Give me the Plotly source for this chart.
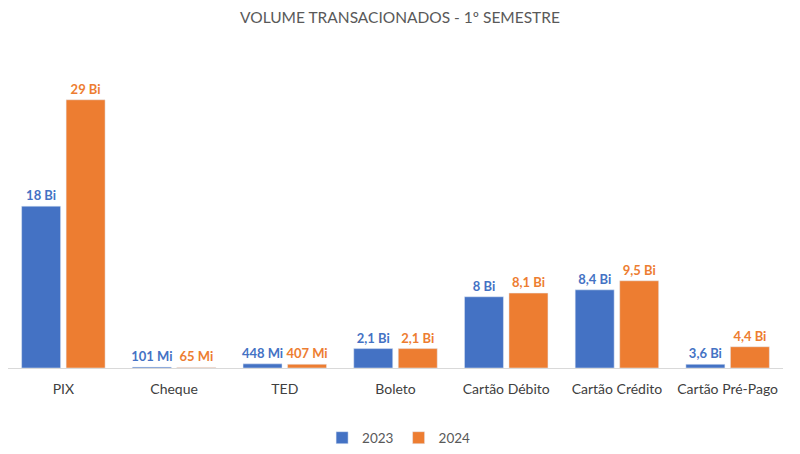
import plotly.graph_objects as go

categorias = ["PIX", "Cheque", "TED", "Boleto", "Cartão Débito", "Cartão Crédito", "Cartão Pré-Pago"]
# bar heights (Bi) as drawn in the picture
v2023 = [17.5, 0.101, 0.448, 2.1, 7.7, 8.45, 0.4]
v2024 = [29, 0.065, 0.407, 2.1, 8.1, 9.43, 2.3]
# data labels as printed
r2023 = ["18 Bi", "101 Mi", "448 Mi", "2,1 Bi", "8 Bi", "8,4 Bi", "3,6 Bi"]
r2024 = ["29 Bi", "65 Mi", "407 Mi", "2,1 Bi", "8,1 Bi", "9,5 Bi", "4,4 Bi"]

AZUL = "#4472C4"
LARANJA = "#ED7D31"
CINZA = "#595959"
FONTE = "Lato, Open Sans, sans-serif"

fig = go.Figure()
fig.add_trace(go.Bar(x=categorias, y=v2023, name="2023", marker_color=AZUL,
                     text=r2023, textposition="outside", cliponaxis=False,
                     constraintext="none",
                     textfont=dict(color=AZUL, size=13, family=FONTE, weight="bold")))
fig.add_trace(go.Bar(x=categorias, y=v2024, name="2024", marker_color=LARANJA,
                     text=r2024, textposition="outside", cliponaxis=False,
                     constraintext="none",
                     textfont=dict(color=LARANJA, size=13, family=FONTE, weight="bold")))

fig.update_layout(
    width=800, height=454,
    margin=dict(l=0, r=24.6, t=52, b=94),
    paper_bgcolor="white", plot_bgcolor="white",
    barmode="group", bargap=0.196, bargroupgap=0.124,
    title=dict(text="VOLUME TRANSACIONADOS - 1º SEMESTRE", x=0.49, xanchor="center",
               y=0.978, yanchor="middle",
               font=dict(size=15.5, color=CINZA, family=FONTE)),
    legend=dict(orientation="h", x=0.504, xanchor="center", y=-0.227, yanchor="middle",
                font=dict(size=13.5, color=CINZA, family=FONTE), traceorder="normal",
                itemwidth=30),
    showlegend=True,
)
fig.update_xaxes(showline=True, linecolor="#D9D9D9", linewidth=1, ticks="",
                 automargin=False,
                 tickfont=dict(size=14, color="#404040", family=FONTE),
                 ticklabelstandoff=8)
fig.update_yaxes(range=[0, 33.3], visible=False, showgrid=False, automargin=False)

fig.write_html("out.html")
